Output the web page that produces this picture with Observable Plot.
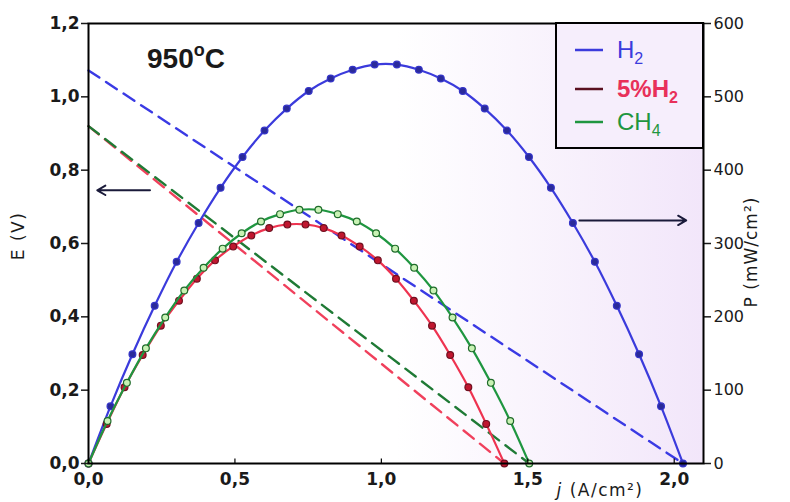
<!DOCTYPE html>
<html><head><meta charset="utf-8">
<script src="https://cdn.jsdelivr.net/npm/d3@7"></script>
<script src="https://cdn.jsdelivr.net/npm/@observablehq/plot@0.6"></script>
<style>body{margin:0;background:#fff;} svg{display:block;}</style>
</head><body><div id="chart"></div>
<script>
// ---- data ----
const seriesNames = ["H2", "5%H2", "CH4"];
const temperature = "950";

// current density j (A/cm2) and power density P (mW/cm2)
const jH2 = [0, 0.075, 0.150, 0.226, 0.301, 0.376, 0.451, 0.526, 0.601, 0.677, 0.752, 0.827, 0.902, 0.977, 1.053, 1.128, 1.203, 1.278, 1.353, 1.429, 1.504, 1.579, 1.654, 1.729, 1.804, 1.880, 1.955, 2.030];
const pH2 = [0, 78, 149, 215, 275, 328, 376, 418, 454, 484, 508, 525, 537, 544, 544, 537, 525, 508, 484, 454, 418, 376, 328, 275, 215, 149, 78, 0];

const j5H2 = [0, 0.062, 0.123, 0.185, 0.247, 0.309, 0.370, 0.432, 0.494, 0.556, 0.617, 0.679, 0.741, 0.803, 0.864, 0.926, 0.988, 1.050, 1.111, 1.173, 1.235, 1.297, 1.358, 1.420];
const p5H2 = [0, 54, 104, 148, 188, 222, 252, 277, 296, 311, 321, 326, 326, 321, 311, 296, 277, 252, 222, 188, 148, 104, 54, 0];

const jCH4 = [0, 0.065, 0.131, 0.196, 0.262, 0.327, 0.393, 0.458, 0.523, 0.589, 0.654, 0.720, 0.785, 0.851, 0.916, 0.982, 1.047, 1.112, 1.178, 1.243, 1.309, 1.374, 1.440, 1.505];
const pCH4 = [0, 58, 110, 157, 199, 236, 267, 293, 314, 330, 340, 346, 346, 340, 330, 314, 293, 267, 236, 199, 157, 110, 58, 0];

// cell voltage E (V) lines (dashed): end points
const eJH2 = [0, 2.03];   const eH2 = [1.072, 0];
const eJ5H2 = [0, 1.42];  const e5H2 = [0.92, 0];
const eJCH4 = [0, 1.505]; const eCH4 = [0.92, 0];

// axis ticks
const jTicks = [0, 0.5, 1.0, 1.5, 2.0];
const eTicks = [0, 0.2, 0.4, 0.6, 0.8, 1.0, 1.2];
const pTicks = [0, 100, 200, 300, 400, 500, 600];

// axis-pointing arrows (which curve goes with which axis)
const arrowFrom = [{j: 0.21, e: 0.745}, {j: 1.676, e: 0.663}];
const arrowTo   = [{j: 0.03, e: 0.745}, {j: 2.041, e: 0.663}];

// ---- chart ----
const pPerV = 600 / 1.2; // right axis (mW/cm2) mapped onto left axis (V)
const W = 790, H = 502, mL = 88, mR = 87, mT = 23, mB = 39;
const fmt = d => d.toFixed(1).replace(".", ",");

const series = [
  {name: seriesNames[0], j: jH2, p: pH2, eJ: eJH2, e: eH2, line: "#3b3bdc", dash: "#3a3ae4", fill: "#2a2a9a", ring: "#3434c8"},
  {name: seriesNames[1], j: j5H2, p: p5H2, eJ: eJ5H2, e: e5H2, line: "#ee3350", dash: "#f0405c", fill: "#c0162f", ring: "#701020"},
  {name: seriesNames[2], j: jCH4, p: pCH4, eJ: eJCH4, e: eCH4, line: "#1f9640", dash: "#1f7a35", fill: "#c8f2b4", ring: "#1f6b2a"}
];

const marks = [];
for (const s of series) {
  const rows = s.eJ.map((j, i) => ({j, e: s.e[i]}));
  marks.push(Plot.line(rows, {x: "j", y: "e", stroke: s.dash, strokeWidth: 2.4, strokeDasharray: "13,8"}));
}
for (const s of series) {
  const rows = s.j.map((j, i) => ({j, p: s.p[i]}));
  marks.push(Plot.line(rows, {x: "j", y: d => d.p / pPerV, stroke: s.line, strokeWidth: 2.2, curve: "catmull-rom"}));
  marks.push(Plot.dot(rows, {x: "j", y: d => d.p / pPerV, r: 3.4, fill: s.fill, stroke: s.ring, strokeWidth: 1.2}));
}
const arrows = arrowFrom.map((a, i) => ({x1: a.j, y1: a.e, x2: arrowTo[i].j, y2: arrowTo[i].e}));
marks.push(Plot.arrow(arrows, {x1: "x1", y1: "y1", x2: "x2", y2: "y2", stroke: "#1a1a3a", strokeWidth: 2, headLength: 7}));

marks.push(Plot.ruleX(jTicks, {y1: 0, y2: 0.012, stroke: "#000", strokeWidth: 1.2}));
marks.push(Plot.axisX(jTicks, {tickSize: 0, tickPadding: 9, tickFormat: fmt, fontWeight: "bold", fontSize: 17, label: null}));
marks.push(Plot.axisY(eTicks, {anchor: "left", tickSize: 7, tickPadding: 2, tickFormat: fmt, fontWeight: "bold", fontSize: 17, label: null, strokeWidth: 1.5}));
marks.push(Plot.axisY(pTicks.map(p => p / pPerV), {anchor: "right", tickSize: 7, tickPadding: 3, fontSize: 16, tickFormat: d => String(Math.round(d * pPerV)), label: null, strokeWidth: 1.5}));
marks.push(Plot.frame({stroke: "#000", strokeWidth: 2}));

const plot = Plot.plot({
  width: W, height: H,
  marginLeft: mL, marginRight: mR, marginTop: mT, marginBottom: mB,
  x: {domain: [0, 2.1]},
  y: {domain: [0, 1.2]},
  style: {fontFamily: "DejaVu Sans, sans-serif", fontSize: "16px", color: "#1a1a1a", background: "#fff"},
  marks
});

const svg = d3.select(plot);
// background tint of plot area
const defs = svg.insert("defs", ":first-child");
const grad = defs.append("linearGradient").attr("id", "bgGrad").attr("x1", 0).attr("x2", 1).attr("y1", 0).attr("y2", 0);
grad.append("stop").attr("offset", "0%").attr("stop-color", "#ffffff");
grad.append("stop").attr("offset", "50%").attr("stop-color", "#ffffff");
grad.append("stop").attr("offset", "100%").attr("stop-color", "#f2e6fa");
svg.insert("rect", "g").attr("x", mL).attr("y", mT).attr("width", W - mL - mR).attr("height", H - mT - mB).attr("fill", "url(#bgGrad)");

// title
const t = svg.append("text").attr("x", 147).attr("y", 68).attr("text-anchor", "start")
  .attr("font-family", "Liberation Sans, Arial, sans-serif")
  .attr("font-weight", "bold").attr("font-size", 28).attr("fill", "#1a1a1a");
t.append("tspan").text(temperature);
t.append("tspan").attr("dy", -12).attr("font-size", 18).text("o");
t.append("tspan").attr("dy", 12).text("C");

// axis labels
svg.append("text").attr("transform", "translate(24,236) rotate(-90)").attr("text-anchor", "middle")
  .attr("font-size", 17).attr("letter-spacing", 1.5).attr("fill", "#1a1a1a").text("E (V)");
svg.append("text").attr("transform", "translate(757,252) rotate(-90)").attr("text-anchor", "middle")
  .attr("font-size", 17).attr("letter-spacing", 1).attr("fill", "#1a1a1a").text("P (mW/cm²)");
const xl = svg.append("text").attr("x", 600).attr("y", 496).attr("text-anchor", "middle")
  .attr("font-size", 17).attr("letter-spacing", 1.5).attr("fill", "#1a1a1a");
xl.append("tspan").attr("font-style", "italic").text("j");
xl.append("tspan").text(" (A/cm²)");

// legend
const lg = svg.append("g");
lg.append("rect").attr("x", 556).attr("y", mT).attr("width", W - mR - 556).attr("height", 125)
  .attr("fill", "#f6eefc").attr("stroke", "#000").attr("stroke-width", 2);
const legendRows = [
  {y: 50, line: "#3b3bdc", text: "#3b3bdc", base: "H", sub: "2", weight: "normal"},
  {y: 89, line: "#5a1020", text: "#e8305a", base: "5%H", sub: "2", weight: "bold"},
  {y: 122, line: "#1f9640", text: "#1f9640", base: "CH", sub: "4", weight: "normal"}
];
legendRows.forEach(r => {
  lg.append("line").attr("x1", 575).attr("x2", 603).attr("y1", r.y).attr("y2", r.y).attr("stroke", r.line).attr("stroke-width", 2.5);
  const tx = lg.append("text").attr("x", 617).attr("y", r.y + 8).attr("text-anchor", "start")
    .attr("font-family", "Liberation Sans, Arial, sans-serif")
    .attr("font-size", 24).attr("font-weight", r.weight).attr("fill", r.text);
  tx.append("tspan").text(r.base);
  tx.append("tspan").attr("dy", 6).attr("font-size", 16).text(r.sub);
});

document.getElementById("chart").appendChild(plot);
</script>
</body></html>
